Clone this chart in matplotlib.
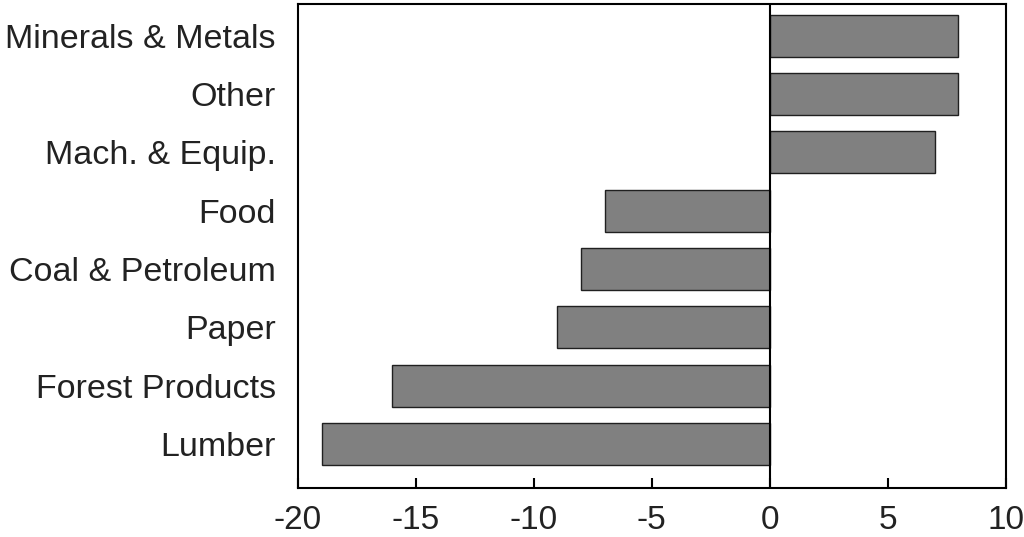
import matplotlib
matplotlib.use("Agg")
import matplotlib.pyplot as plt

# Data (bottom to top)
categories = ['Lumber', 'Forest Products', 'Paper', 'Coal & Petroleum',
              'Food', 'Mach. & Equip.', 'Other', 'Minerals & Metals']
values = [-19, -16, -9, -8, -7, 7, 8, 8]

plt.rcParams['font.family'] = ['Liberation Sans', 'DejaVu Sans']

fig = plt.figure(figsize=(10.24, 5.37), dpi=100)
ax = fig.add_axes([0.291, 0.091, 0.691, 0.902])

ypos = list(range(len(categories)))
ax.barh(ypos, values, height=0.72, color='#808080', edgecolor='#202020', linewidth=1.0)
ax.axvline(0, color='black', linewidth=1.5)

ax.set_xlim(-20, 10)
ax.set_ylim(-0.755, 7.55)
ax.set_xticks([-20, -15, -10, -5, 0, 5, 10])
ax.set_xticklabels(['-20', '-15', '-10', '-5', '0', '5', '10'])
ax.set_yticks(ypos)
ax.set_yticklabels(categories)

ax.tick_params(axis='x', direction='in', length=7, width=1.5, labelsize=24,
               pad=12, labelcolor='#222222')
ax.tick_params(axis='y', length=0, labelsize=24.5, pad=16, labelcolor='#222222')
for s in ax.spines.values():
    s.set_linewidth(1.5)

fig.savefig('out.png', dpi=100)
